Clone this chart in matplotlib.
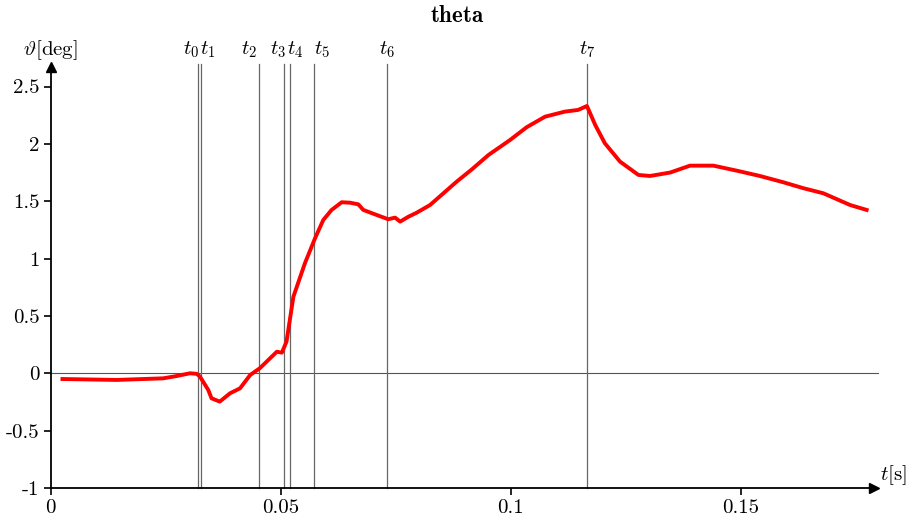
import numpy as np
import matplotlib
matplotlib.use("Agg")
import matplotlib.pyplot as plt

plt.rcParams["font.family"] = "cmr10"
plt.rcParams["mathtext.fontset"] = "cm"
plt.rcParams["axes.unicode_minus"] = False

# curve
t = [0.0026, 0.0144, 0.0245, 0.0274, 0.0303, 0.0318, 0.0325, 0.0343, 0.0350,
     0.0368, 0.0390, 0.0412, 0.0434, 0.0455, 0.0492, 0.0503, 0.0513, 0.0528,
     0.0553, 0.0575, 0.0593, 0.0611, 0.0633, 0.0651, 0.0669, 0.0680, 0.0709,
     0.0734, 0.0749, 0.0760, 0.0778, 0.0796, 0.0825, 0.0883, 0.0916, 0.0952,
     0.0999, 0.1035, 0.1075, 0.1118, 0.1147, 0.1166, 0.1184, 0.1205, 0.1238,
     0.1278, 0.1303, 0.1347, 0.1390, 0.1441, 0.1492, 0.1542, 0.1593, 0.1637,
     0.1680, 0.1738, 0.1774]
theta = [-0.050, -0.058, -0.044, -0.024, 0.000, -0.005, -0.030, -0.146, -0.218,
         -0.247, -0.175, -0.131, -0.015, 0.044, 0.188, 0.180, 0.276, 0.668,
         0.959, 1.177, 1.337, 1.424, 1.491, 1.487, 1.473, 1.424, 1.380,
         1.343, 1.357, 1.322, 1.365, 1.400, 1.467, 1.671, 1.778, 1.903,
         2.034, 2.145, 2.237, 2.281, 2.296, 2.330, 2.165, 2.005, 1.845,
         1.729, 1.720, 1.750, 1.810, 1.810, 1.766, 1.720, 1.665, 1.613,
         1.569, 1.467, 1.424]

events = [0.03213, 0.03272, 0.04539, 0.0507, 0.0520, 0.0573, 0.0732, 0.1166]
event_labels = [r"$t_%d$" % i for i in range(len(events))]
label_shift = [-7.5, 6.5, -10, -5.5, 5.5, 8, 0, 0]  # px, keeps labels apart

xticks = [0, 0.05, 0.1, 0.15]
xtick_labels = ["0", "0.05", "0.1", "0.15"]
yticks = [-1, -0.5, 0, 0.5, 1, 1.5, 2, 2.5]
ytick_labels = ["-1", "-0.5", "0", "0.5", "1", "1.5", "2", "2.5"]

fs = 15

fig = plt.figure(figsize=(9.1, 5.2), dpi=100)
ax = fig.add_axes([50.5 / 910, 32 / 520, (874 - 50.5) / 910, (488 - 67) / 520])
ax.set_xlim(0, 0.179)
ax.set_ylim(-1, 2.67)

for s in ["top", "right"]:
    ax.spines[s].set_visible(False)
for s in ["left", "bottom"]:
    ax.spines[s].set_linewidth(1.3)
ax.plot(1, -1, ">k", ms=7.5, transform=ax.get_yaxis_transform(), clip_on=False, zorder=5)
ax.plot(0, 1, "^k", ms=7.5, transform=ax.get_xaxis_transform(), clip_on=False, zorder=5)

ax.plot([0, 0.1798], [0, 0], color="#555555", linewidth=0.8, zorder=1, clip_on=False)
for x, lab, dx in zip(events, event_labels, label_shift):
    ax.plot([x, x], [-1, 2.70], color="#666666", linewidth=0.9, zorder=1, clip_on=False)
    ax.annotate(lab, xy=(x, 2.775), xytext=(dx * 0.72, 0), textcoords="offset points",
                ha="center", va="baseline", fontsize=fs, annotation_clip=False)

ax.plot(t, theta, color="red", linewidth=2.8, zorder=3)

ax.set_xticks(xticks)
ax.set_xticklabels(xtick_labels)
ax.set_yticks(yticks)
ax.set_yticklabels(ytick_labels)
ax.tick_params(direction="out", length=5, width=1.2, labelsize=fs, pad=3)

fig.text(457 / 910, 1 - 15 / 520, r"$\mathbf{theta}$", ha="center", va="center", fontsize=16.5)
fig.text(50 / 910, 1 - 55 / 520, r"$\vartheta[\mathrm{deg}]$", ha="center", va="baseline", fontsize=fs)
fig.text(893 / 910, 1 - 475 / 520, r"$t[\mathrm{s}]$", ha="center", va="center", fontsize=fs)

fig.savefig("out.png", dpi=100)
